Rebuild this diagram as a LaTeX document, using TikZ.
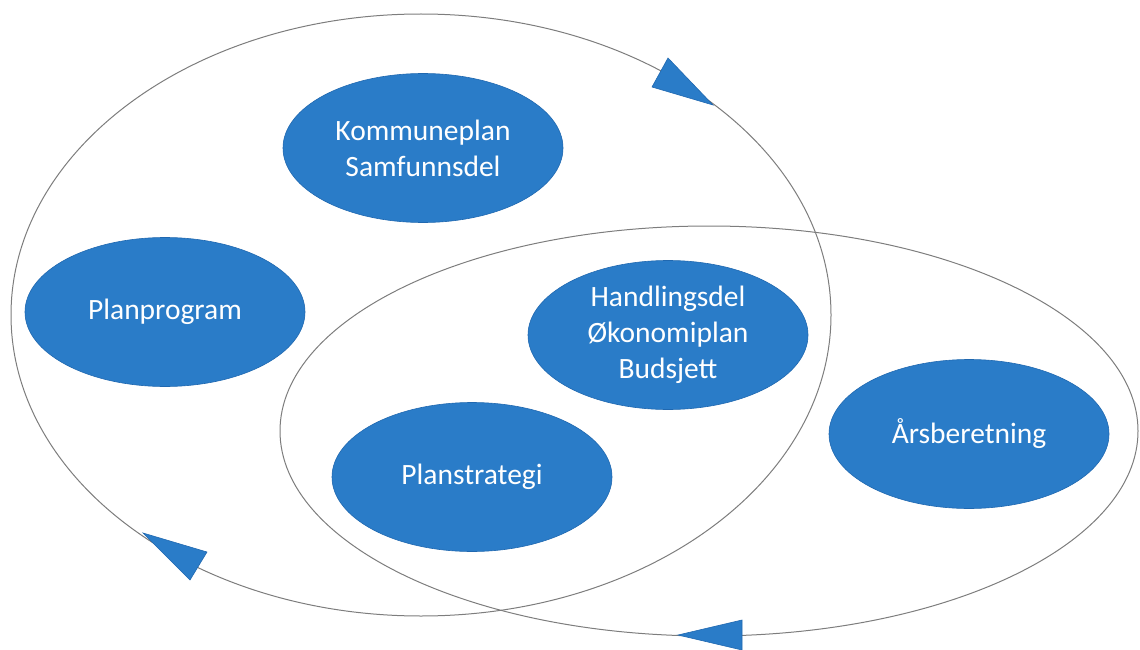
\documentclass[tikz,border=0pt]{standalone}
\usepackage{fontspec}
\setmainfont{Carlito}
\usetikzlibrary{shapes.geometric}
\definecolor{blob}{RGB}{42,124,200}
\definecolor{blobedge}{RGB}{32,104,176}
\definecolor{ring}{RGB}{125,125,125}
\begin{document}
\begin{tikzpicture}[x=1pt,y=-1pt,
  blobnode/.style={ellipse,fill=blob,draw=blobedge,line width=0.6pt,text=white,
     minimum width=280pt,minimum height=149pt,inner sep=0pt,align=center,
     font=\fontsize{29.5}{36}\selectfont},
  ringline/.style={draw=ring,line width=1pt},
  headtri/.style={fill=blob,draw=blobedge,line width=0.6pt}]
\useasboundingbox (0,0) rectangle (1140,650);
\draw[ringline] (421,315) ellipse [x radius=410, y radius=301];
\draw[ringline] (709,431) ellipse [x radius=429, y radius=205];
\node[blobnode] (komm) at (423,148) {Kommuneplan\\Samfunnsdel};
\node[blobnode] (plprog) at (165,312) {Planprogram};
\node[blobnode] (handl) at (668,335) {Handlingsdel\\Økonomiplan\\Budsjett};
\node[blobnode] (aars) at (969,434) {Årsberetning};
\node[blobnode] (plstrat) at (472,477) {Planstrategi};
\fill[headtri] (668,58) -- (652,87) -- (713,105) -- cycle;
\fill[headtri] (143,533) -- (207,552) -- (190,580) -- cycle;
\fill[headtri] (678,635) -- (742,620) -- (742,650) -- cycle;
\end{tikzpicture}
\end{document}
